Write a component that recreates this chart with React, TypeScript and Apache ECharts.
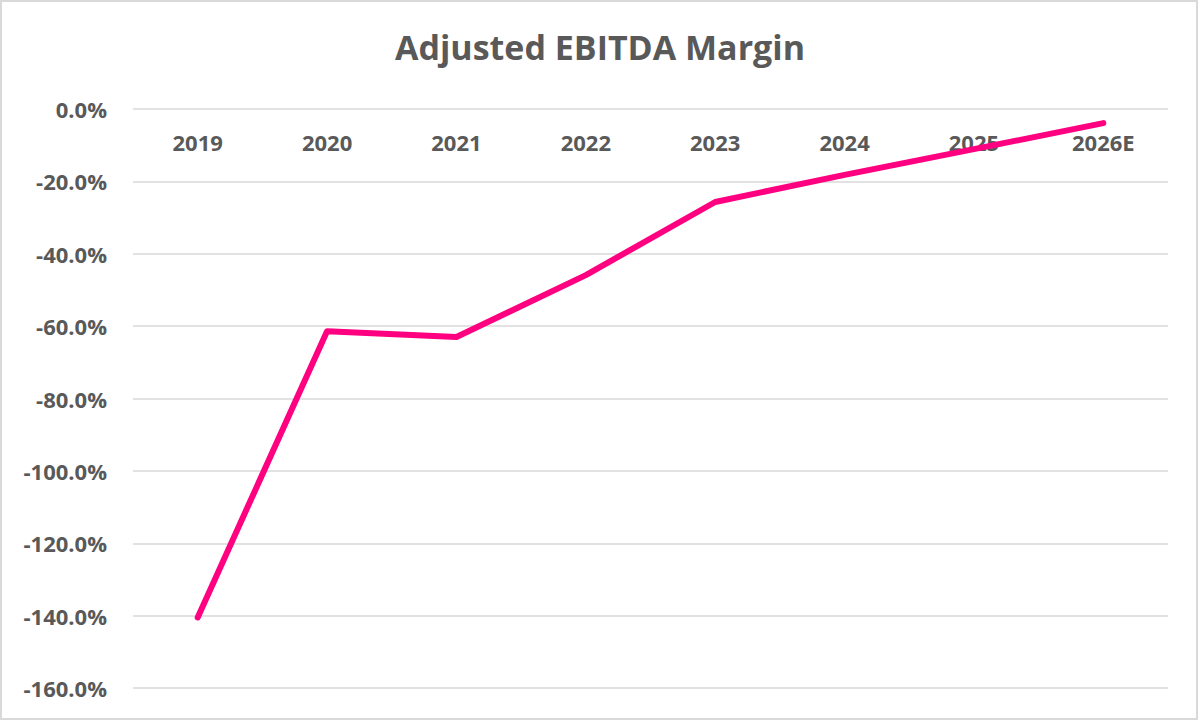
import React, { useEffect, useRef } from "react";
import * as echarts from "echarts";

const categories = ["2019", "2020", "2021", "2022", "2023", "2024", "2025", "2026E"];
const marginValues = [-140.5, -61.4, -63.0, -45.9, -25.7, -18.2, -11.1, -3.9];
const yTicks = { min: -160, max: 0, interval: 20 };

export default function App() {
  const ref = useRef<HTMLDivElement>(null);
  useEffect(() => {
    const chart = echarts.init(ref.current!, undefined, { renderer: "svg" });
    chart.setOption({
      animation: false,
      backgroundColor: "#ffffff",
      title: {
        text: "Adjusted EBITDA Margin",
        left: "center",
        top: 25,
        textStyle: { fontFamily: "Open Sans", fontSize: 34, fontWeight: "bold", color: "#595959" },
      },
      graphic: [
        {
          type: "rect",
          shape: { x: 1, y: 1, width: 1196, height: 718 },
          style: { fill: "none", stroke: "#d9d9d9", lineWidth: 2 },
          silent: true,
        },
      ],
      grid: { left: 133, right: 32, top: 109, bottom: 33, containLabel: false },
      xAxis: {
        type: "category",
        data: categories,
        position: "top",
        boundaryGap: true,
        axisLine: { show: false },
        axisTick: { show: false },
        axisLabel: {
          inside: true,
          margin: 22,
          fontFamily: "Open Sans",
          fontSize: 22,
          fontWeight: "bold",
          color: "#595959",
        },
      },
      yAxis: {
        type: "value",
        min: yTicks.min,
        max: yTicks.max,
        interval: yTicks.interval,
        axisLine: { show: false },
        axisTick: { show: false },
        splitLine: { lineStyle: { color: "#d9d9d9", width: 1.5 } },
        axisLabel: {
          margin: 26,
          fontFamily: "Open Sans",
          fontSize: 22,
          fontWeight: "bold",
          color: "#595959",
          formatter: (v: number) => v.toFixed(1) + "%",
        },
      },
      series: [
        {
          type: "line",
          data: marginValues,
          symbol: "none",
          z: 1,
          lineStyle: { color: "#ff0080", width: 6, cap: "round", join: "round" },
        },
      ],
    });
    return () => chart.dispose();
  }, []);
  return (
    <div
      ref={ref}
      style={{ position: "fixed", left: 0, top: 0, width: 1200, height: 721 }}
    />
  );
}
